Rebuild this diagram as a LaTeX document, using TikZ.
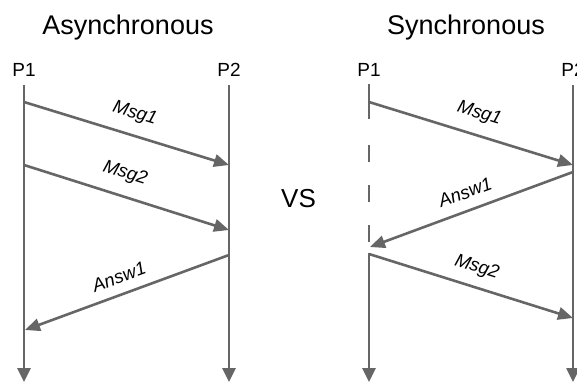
\documentclass[tikz,border=0pt]{standalone}
\usepackage{fontspec}
\setmainfont{Liberation Sans}
\usetikzlibrary{arrows.meta}
\definecolor{linegray}{HTML}{666666}
\begin{document}
\begin{tikzpicture}[x=1pt,y=-1pt,
  line/.style={draw=linegray, line width=2.6pt},
  msg/.style={line, -{Triangle[length=15pt,width=12.5pt]}},
  life/.style={line, -{Triangle[length=14pt,width=13pt]}},
  title/.style={font=\fontsize{27}{30}\selectfont, anchor=base, inner sep=0pt},
  proc/.style={font=\fontsize{19}{22}\selectfont, anchor=base, inner sep=0pt},
  lbl/.style={font=\fontsize{18.5}{21}\selectfont\itshape, sloped, above, inner sep=2.5pt},
]
\useasboundingbox (0,0) rectangle (577,382);

% headings
\node[title] (tasync) at (128,35) {Asynchronous};
\node[title] (tsync)  at (466,35) {Synchronous};
\node[font=\fontsize{26}{30}\selectfont, anchor=base, inner sep=0pt] (vs) at (298.5,207) {VS};

% process names
\node[proc] (ap1) at (24,77)  {P1};
\node[proc] (ap2) at (229,77) {P2};
\node[proc] (sp1) at (369,77) {P1};
\node[proc] (sp2) at (573,77) {P2};

% ---- asynchronous lifelines
\coordinate (ap1top) at (24,85);   \coordinate (ap1end) at (24,382);
\coordinate (ap2top) at (229,85);  \coordinate (ap2end) at (229,382);
\draw[life] (ap1top) -- (ap1end);
\draw[life] (ap2top) -- (ap2end);

% asynchronous messages
\coordinate (am1s) at (24,102);  \coordinate (am1e) at (229,165);
\coordinate (am2s) at (24,165);  \coordinate (am2e) at (229,230);
\coordinate (aa1s) at (229,255); \coordinate (aa1e) at (25,330);
\draw[msg] (am1s) -- node[lbl, pos=0.51, above=9pt] {Msg1} (am1e);
\draw[msg] (am2s) -- node[lbl, pos=0.46, above=10pt] {Msg2} (am2e);
\draw[msg] (aa1s) -- node[lbl, pos=0.51, above=7pt] {Answ1} (aa1e);

% ---- synchronous lifelines (P1 blocked while waiting)
\coordinate (sp1top) at (369,84);  \coordinate (sp1w1) at (369,119);
\coordinate (sp1w2) at (369,145);  \coordinate (sp1w3) at (369,242);
\coordinate (sp1w4) at (369,253);  \coordinate (sp1end) at (369,382);
\coordinate (sp2top) at (573,85);  \coordinate (sp2end) at (573,382);
\draw[line] (sp1top) -- (sp1w1);
\draw[line, dash pattern=on 17pt off 23pt] (sp1w2) -- (sp1w3);
\draw[life] (sp1w4) -- (sp1end);
\draw[life] (sp2top) -- (sp2end);

% synchronous messages
\coordinate (sm1s) at (369,102); \coordinate (sm1e) at (573,165);
\coordinate (sa1s) at (573,172); \coordinate (sa1e) at (370,247);
\coordinate (sm2s) at (369,254); \coordinate (sm2e) at (573,318);
\draw[msg] (sm1s) -- node[lbl, pos=0.51, above=9pt] {Msg1} (sm1e);
\draw[msg] (sa1s) -- node[lbl, pos=0.5, above=8pt] {Answ1} (sa1e);
\draw[msg] (sm2s) -- node[lbl, pos=0.5, above=7pt] {Msg2} (sm2e);
\end{tikzpicture}
\end{document}
